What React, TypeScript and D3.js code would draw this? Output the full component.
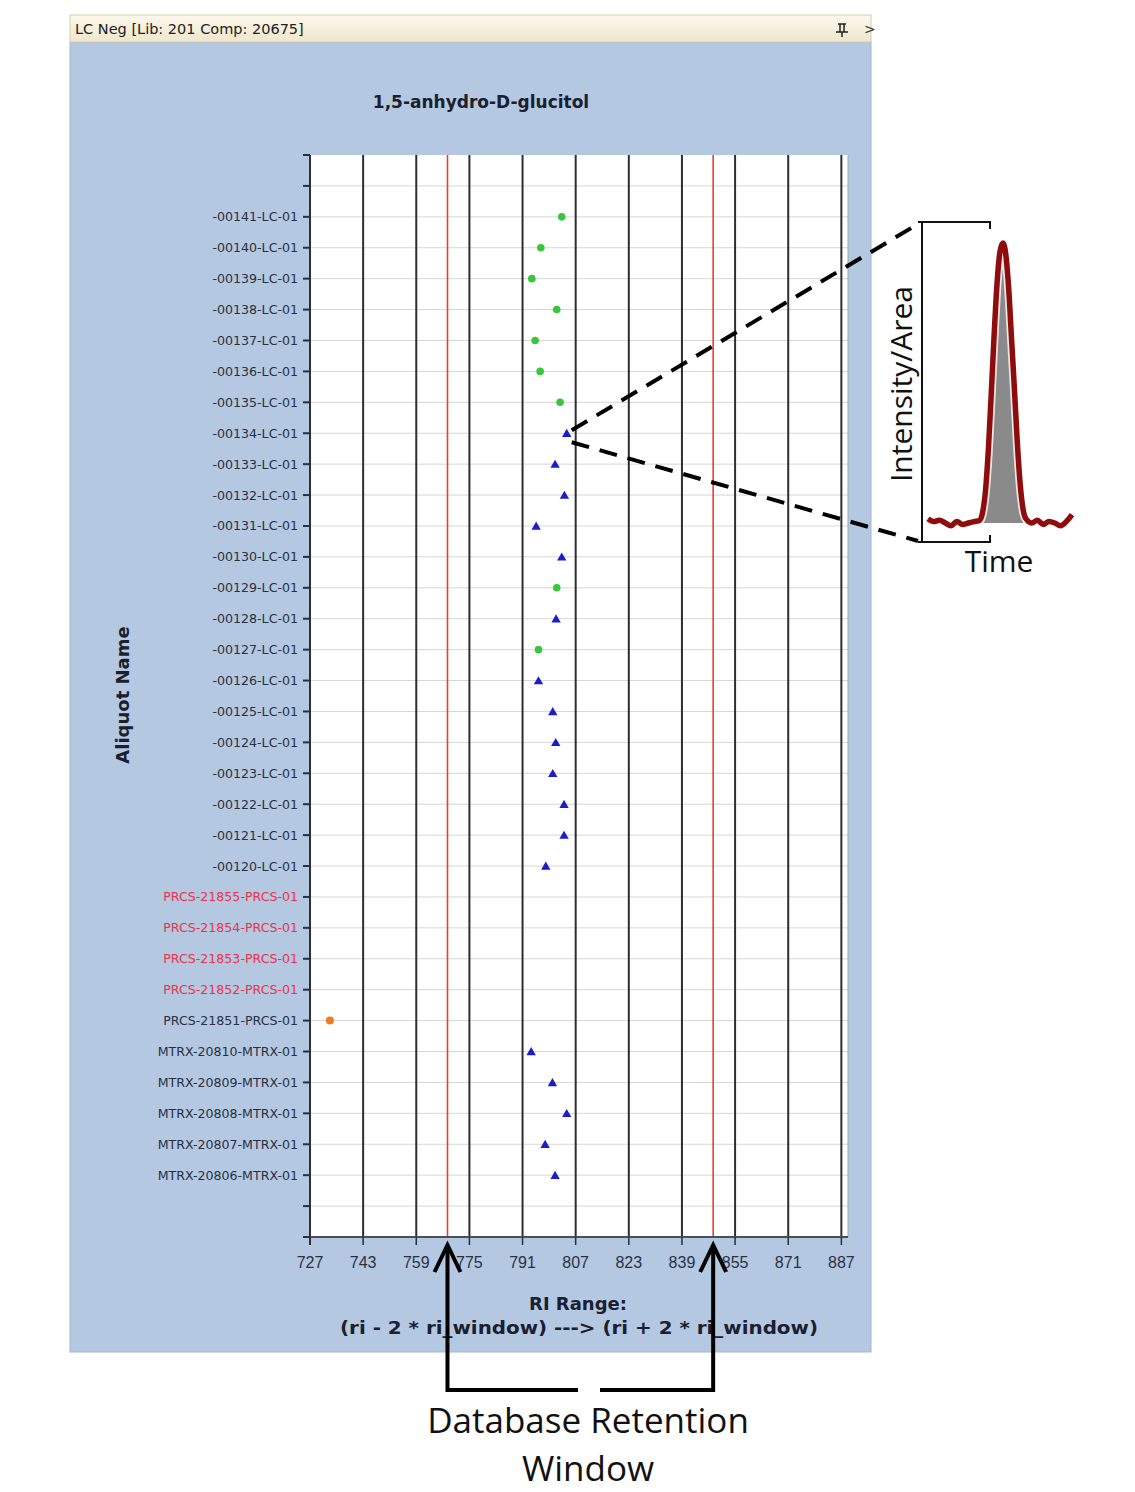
import React from "react";
import * as d3 from "d3";

// aliquot names, top to bottom
const aliquots = [
  "-00141-LC-01", "-00140-LC-01", "-00139-LC-01", "-00138-LC-01", "-00137-LC-01",
  "-00136-LC-01", "-00135-LC-01", "-00134-LC-01", "-00133-LC-01", "-00132-LC-01",
  "-00131-LC-01", "-00130-LC-01", "-00129-LC-01", "-00128-LC-01", "-00127-LC-01",
  "-00126-LC-01", "-00125-LC-01", "-00124-LC-01", "-00123-LC-01", "-00122-LC-01",
  "-00121-LC-01", "-00120-LC-01",
  "PRCS-21855-PRCS-01", "PRCS-21854-PRCS-01", "PRCS-21853-PRCS-01", "PRCS-21852-PRCS-01",
  "PRCS-21851-PRCS-01",
  "MTRX-20810-MTRX-01", "MTRX-20809-MTRX-01", "MTRX-20808-MTRX-01", "MTRX-20807-MTRX-01",
  "MTRX-20806-MTRX-01",
];
// flagged (red) labels
const flagged = ["PRCS-21855-PRCS-01", "PRCS-21854-PRCS-01", "PRCS-21853-PRCS-01", "PRCS-21852-PRCS-01"];

// RI for each aliquot (null = no detection)
const riValues: (number | null)[] = [
  802.8, 796.5, 793.8, 801.3, 794.8, 796.3, 802.3, 804.3, 800.8, 803.6,
  795.1, 802.8, 801.3, 801.1, 795.8, 795.8, 800.1, 801.0, 800.1, 803.5,
  803.5, 798.0,
  null, null, null, null,
  733.0,
  793.6, 800.0, 804.3, 797.8, 800.8,
];
// marker kind per aliquot
const markerKinds = [
  "g", "g", "g", "g", "g", "g", "g", "b", "b", "b",
  "b", "b", "g", "b", "g", "b", "b", "b", "b", "b",
  "b", "b",
  "", "", "", "",
  "o",
  "b", "b", "b", "b", "b",
];

const xTicks = [727, 743, 759, 775, 791, 807, 823, 839, 855, 871, 887];
const riWindowLow = 768.4;
const riWindowHigh = 848.4;

// peak in the inset (time %, intensity %)
const peakTime = [0, 4, 8, 12, 16, 20, 24, 28, 32, 36, 38, 40, 42, 44, 46, 48, 50, 52, 54, 56, 58, 60, 62, 64, 66, 68, 72, 76, 80, 84, 88, 92, 96, 100];
const peakIntensity = [1.5, 0.5, 1, 0, -1, 0.5, -0.5, 0, 0.5, 1, 4, 12, 27, 47, 68, 86, 97, 100, 96, 84, 66, 48, 29, 14, 5, 1.5, 0, 1, -0.5, 0.5, 0, -1, 0.5, 3];

const markerColor: Record<string, string> = { g: "#3cc43c", b: "#1c1cc8", o: "#f07c1c" };

export default function App() {
  const plot = { left: 310, right: 848, top: 155, bottom: 1237 };
  const x = d3.scaleLinear().domain([727, 889]).range([plot.left, plot.right]);
  const y = d3.scaleLinear().domain([-2, 33]).range([plot.top, plot.bottom]);
  const rowTicks = d3.range(-2, 34);

  const tx = d3.scaleLinear().domain([0, 100]).range([928, 1072]);
  const ty = d3.scaleLinear().domain([0, 100]).range([523, 243]);
  const peakPts = peakTime.map((t, i) => [t, peakIntensity[i]] as [number, number]);
  const peakLine = d3.line<[number, number]>().x(d => tx(d[0])).y(d => ty(d[1])).curve(d3.curveMonotoneX)(peakPts) || "";
  const fillPts = peakPts.filter(d => d[0] >= 38 && d[0] <= 66);
  const peakArea = d3.area<[number, number]>().x(d => tx(d[0])).y0(ty(0)).y1(d => ty(d[1])).curve(d3.curveMonotoneX)(fillPts) || "";

  const tri = d3.symbol().type(d3.symbolTriangle).size(38)() || "";

  const xl = x(riWindowLow);
  const xh = x(riWindowHigh);
  const sel = 7; // aliquot index pointed at by the zoom lines
  const selX = x(riValues[sel] as number) + 5;
  const selY = y(sel);

  return (
    <svg width={1135} height={1492} style={{ position: "absolute", left: 0, top: 0, background: "#fff" }}>
      <defs>
        <linearGradient id="bar" x1="0" y1="0" x2="0" y2="1">
          <stop offset="0" stopColor="#fcf8ec" />
          <stop offset="1" stopColor="#efe6cc" />
        </linearGradient>
      </defs>

      {/* window */}
      <rect x={70} y={42} width={801} height={1310} fill="#b4c8e2" stroke="#a4b6cf" />
      <rect x={70} y={15} width={801} height={27} fill="url(#bar)" stroke="#d6cdb0" />
      <text x={75} y={34} fontFamily="DejaVu Sans" fontSize={14.5} fill="#222">LC Neg [Lib: 201 Comp: 20675]</text>
      <g stroke="#222" strokeWidth={1.5}>
        <line x1={838} y1={24} x2={846} y2={24} />
        <line x1={840} y1={24} x2={840} y2={32} />
        <line x1={844} y1={24} x2={844} y2={32} />
        <line x1={836} y1={32} x2={848} y2={32} />
        <line x1={842} y1={32} x2={842} y2={37} />
      </g>
      <text x={864} y={34} fontFamily="DejaVu Sans" fontSize={14} fill="#333">&gt;</text>

      <text x={481} y={108} textAnchor="middle" fontFamily="DejaVu Sans" fontWeight="bold" fontSize={17} fill="#1a2030">1,5-anhydro-D-glucitol</text>

      {/* plot area */}
      <rect x={plot.left} y={plot.top} width={plot.right - plot.left} height={plot.bottom - plot.top} fill="#fff" />
      {rowTicks.slice(1, -1).map(r => (
        <line key={"h" + r} x1={plot.left} x2={plot.right} y1={y(r)} y2={y(r)} stroke="#d6d6d6" strokeWidth={1} />
      ))}
      {xTicks.slice(1).map(t => (
        <line key={"v" + t} x1={x(t)} x2={x(t)} y1={plot.top} y2={plot.bottom} stroke="#2e2e2e" strokeWidth={2} />
      ))}
      <line x1={plot.right} x2={plot.right} y1={plot.top} y2={plot.bottom} stroke="#9aa" strokeWidth={1} />
      {[riWindowLow, riWindowHigh].map(v => (
        <line key={"r" + v} x1={x(v)} x2={x(v)} y1={plot.top} y2={plot.bottom} stroke="#ee3a3a" strokeWidth={1.6} />
      ))}

      {/* axes */}
      <line x1={plot.left} x2={plot.left} y1={plot.top} y2={plot.bottom + 8} stroke="#2a2f3a" strokeWidth={2} />
      <line x1={plot.left} x2={plot.right} y1={plot.bottom} y2={plot.bottom} stroke="#4a4f58" strokeWidth={2} />
      {rowTicks.map(r => (
        <line key={"yt" + r} x1={plot.left - 7} x2={plot.left} y1={y(r)} y2={y(r)} stroke="#2a2f3a" strokeWidth={2} />
      ))}
      {xTicks.map(t => (
        <g key={"xt" + t}>
          <line x1={x(t)} x2={x(t)} y1={plot.bottom} y2={plot.bottom + 8} stroke="#2a2f3a" strokeWidth={1.5} />
          <text x={x(t)} y={plot.bottom + 31} textAnchor="middle" fontFamily="Liberation Sans" fontSize={16} fill="#2a3242">{t}</text>
        </g>
      ))}
      {aliquots.map((a, i) => (
        <text key={a} x={plot.left - 12} y={y(i) + 4.5} textAnchor="end" fontFamily="DejaVu Sans" fontSize={12.6}
          fill={flagged.includes(a) ? "#e8344a" : "#2a3040"}>{a}</text>
      ))}

      {/* markers */}
      {riValues.map((v, i) => {
        if (v === null) return null;
        const k = markerKinds[i];
        if (k === "b") return <path key={"m" + i} d={tri} transform={`translate(${x(v)},${y(i) + 1})`} fill={markerColor.b} />;
        return <circle key={"m" + i} cx={x(v)} cy={y(i)} r={k === "o" ? 4 : 3.8} fill={markerColor[k]} />;
      })}

      <text transform="translate(129,695) rotate(-90)" textAnchor="middle" fontFamily="DejaVu Sans" fontWeight="bold" fontSize={18} fill="#1a2030">Aliquot Name</text>
      <text x={578} y={1310} textAnchor="middle" fontFamily="DejaVu Sans" fontWeight="bold" fontSize={18} fill="#1a2030">RI Range:</text>
      <text x={579} y={1334} textAnchor="middle" fontFamily="DejaVu Sans" fontWeight="bold" fontSize={18} fill="#1a2030"
        textLength={478} lengthAdjust="spacingAndGlyphs">(ri - 2 * ri_window) ---&gt; (ri + 2 * ri_window)</text>

      {/* zoom lines */}
      <g stroke="#000" strokeWidth={4} strokeDasharray="18 11" fill="none">
        <line x1={selX} y1={selY - 3} x2={918} y2={224} />
        <line x1={selX} y1={selY + 9} x2={918} y2={541} />
      </g>

      {/* inset */}
      <g stroke="#111" strokeWidth={2} fill="none">
        <path d="M918,222 H990 V229" />
        <path d="M922,222 V542" />
        <path d="M918,542 H990 V535" />
      </g>
      <path d={peakArea} fill="#8a8a8a" />
      <path d={peakLine} fill="none" stroke="#ffffff" strokeWidth={9} strokeLinejoin="round" opacity={0.8} />
      <path d={peakLine} fill="none" stroke="#8e0c0c" strokeWidth={5.5} strokeLinejoin="round" />
      <text transform="translate(912,384) rotate(-90)" textAnchor="middle" fontFamily="Open Sans" fontSize={30} fill="#111">Intensity/Area</text>
      <text x={999} y={572} textAnchor="middle" fontFamily="Open Sans" fontSize={30} fill="#111">Time</text>

      {/* retention window arrows */}
      <g stroke="#000" strokeWidth={4} fill="none" strokeLinejoin="miter">
        <path d={`M${xl},1250 V1390 H578`} />
        <path d={`M${xl - 13},1272 L${xl},1245 L${xl + 13},1272`} />
        <path d={`M${xh},1250 V1390 H600`} />
        <path d={`M${xh - 13},1272 L${xh},1245 L${xh + 13},1272`} />
      </g>
      <text x={588} y={1433} textAnchor="middle" fontFamily="Open Sans" fontSize={35} fill="#111">Database Retention</text>
      <text x={588} y={1481} textAnchor="middle" fontFamily="Open Sans" fontSize={35} fill="#111">Window</text>
    </svg>
  );
}
